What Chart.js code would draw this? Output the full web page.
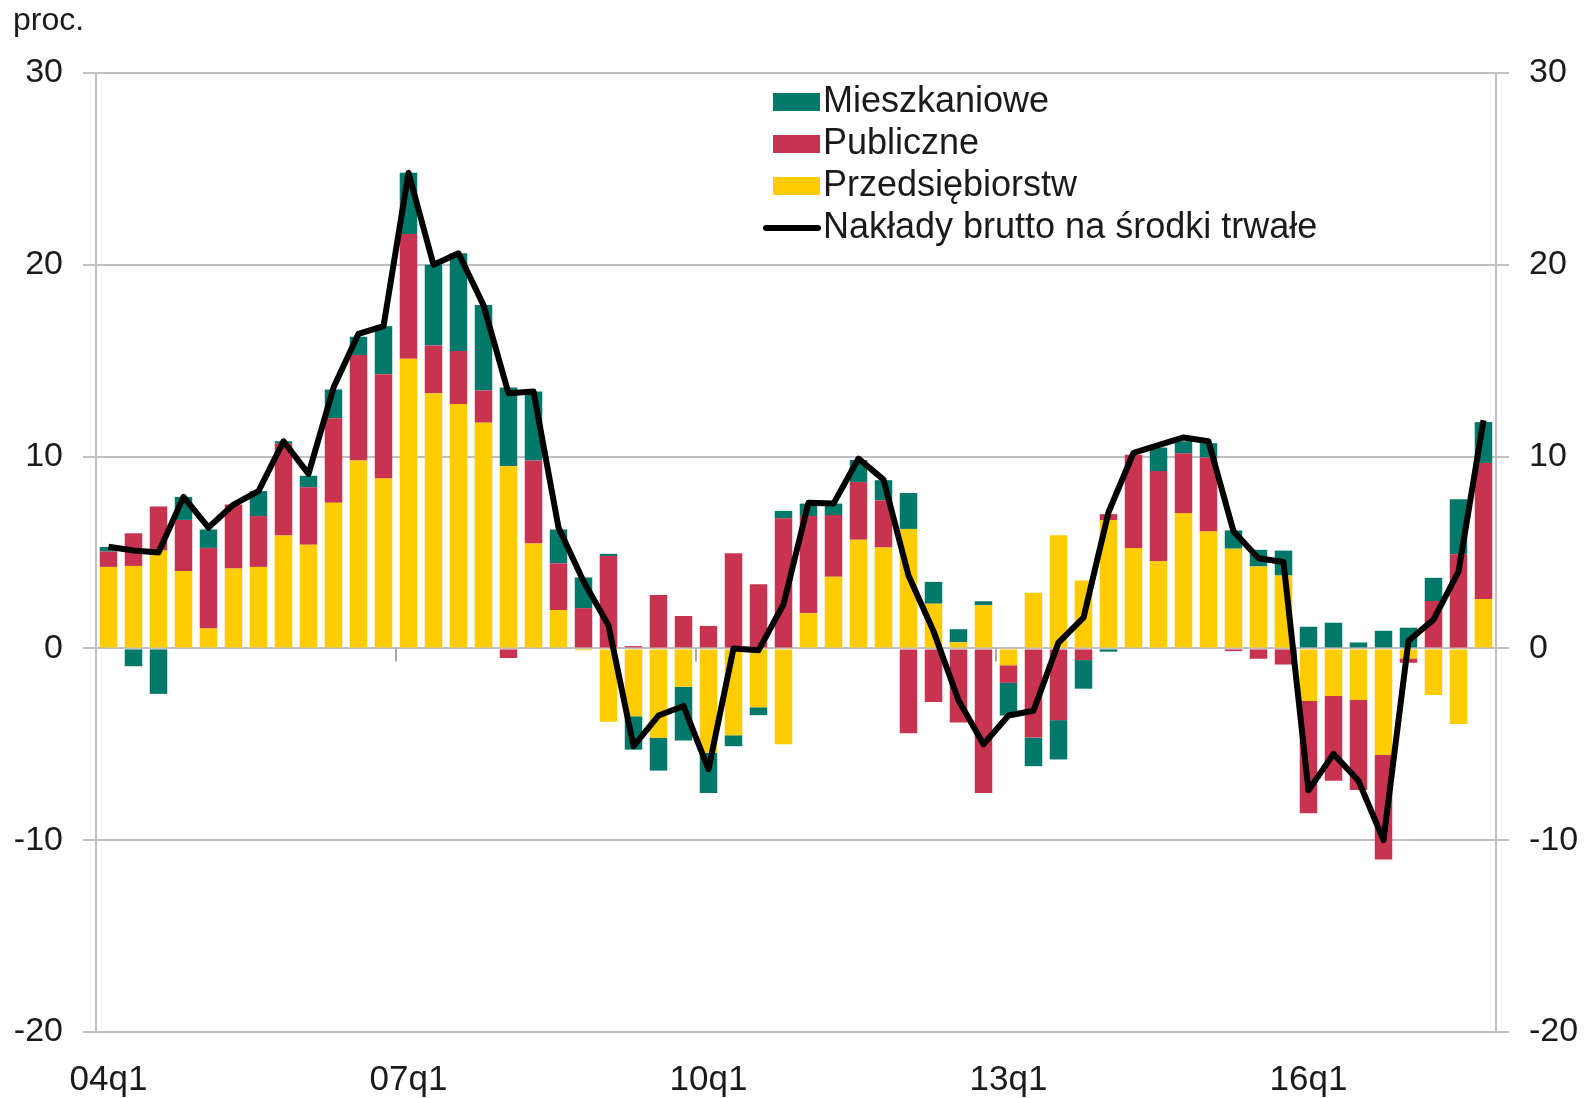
<!DOCTYPE html>
<html>
<head>
<meta charset="utf-8">
<script src="https://cdn.jsdelivr.net/npm/chart.js@4.4.1/dist/chart.umd.min.js"></script>
<style>
  html, body { margin: 0; padding: 0; background: #fff; }
  #wrap { position: relative; width: 1587px; height: 1098px; }
</style>
</head>
<body>
<div id="wrap"><canvas id="myChart"></canvas></div>
<script>
var quarters = [
    '04q1','04q2','04q3','04q4','05q1','05q2','05q3','05q4',
    '06q1','06q2','06q3','06q4','07q1','07q2','07q3','07q4',
    '08q1','08q2','08q3','08q4','09q1','09q2','09q3','09q4',
    '10q1','10q2','10q3','10q4','11q1','11q2','11q3','11q4',
    '12q1','12q2','12q3','12q4','13q1','13q2','13q3','13q4',
    '14q1','14q2','14q3','14q4','15q1','15q2','15q3','15q4',
    '16q1','16q2','16q3','16q4','17q1','17q2','17q3','17q4'
];

// wklady do wzrostu (pkt proc.)
var przedsiebiorstw = [
    4.25, 4.3, 5.1, 4.03, 1.04, 4.16, 4.25, 5.88,
    5.4, 7.6, 9.8, 8.86, 15.1, 13.3, 12.74, 11.77,
    9.5, 5.47, 2.0, -0.1, -3.83, -3.54, -4.67, -2.0,
    -5.45, -4.53, -3.07, -5.0, 1.83, 3.74, 5.67, 5.26,
    6.23, 2.33, 0.32, 2.25, -0.88, 2.9, 5.9, 3.54,
    6.68, 5.24, 4.55, 7.06, 6.1, 5.2, 4.27, 3.8,
    -2.74, -2.48, -2.69, -5.56, -0.52, -2.43, -3.94, 2.57
];
var publiczne = [
    0.8, 1.7, 2.3, 2.67, 4.2, 3.34, 2.65, 4.82,
    3.0, 4.4, 5.5, 5.44, 6.5, 2.5, 2.76, 1.68,
    -0.5, 4.33, 2.44, 2.1, 4.82, 0.12, 2.79, 1.69,
    1.17, 4.96, 3.34, 6.78, 5.07, 3.21, 3.01, 2.46,
    -4.42, -2.8, -3.86, -7.54, -0.92, -4.65, -3.74, -0.61,
    0.32, 4.86, 4.7, 3.11, 3.85, -0.14, -0.54, -0.84,
    -5.86, -4.42, -4.69, -5.44, -0.23, 2.47, 4.91, 7.1
];
var mieszkaniowe = [
    0.24, -0.93, -2.37, 1.2, 0.96, 0.0, 1.3, 0.1,
    0.6, 1.5, 0.95, 2.5, 3.2, 4.2, 5.1, 4.45,
    4.1, 3.6, 1.76, 1.6, 0.11, -1.74, -1.7, -2.8,
    -2.09, -0.57, -0.41, 0.39, 0.65, 0.6, 1.14, 1.05,
    1.87, 1.14, 0.68, 0.21, -1.7, -1.49, -2.05, -1.49,
    -0.17, 0.0, 1.22, 0.63, 0.75, 0.95, 0.87, 1.3,
    1.13, 1.34, 0.31, 0.92, 1.08, 1.21, 2.87, 2.13
];
var naklady = [
    5.3, 5.1, 5.0, 7.9, 6.3, 7.5, 8.2, 10.8,
    9.1, 13.6, 16.4, 16.8, 24.8, 20.0, 20.6, 17.9,
    13.3, 13.4, 6.3, 3.5, 1.2, -5.1, -3.5, -3.0,
    -6.3, 0.0, -0.1, 2.3, 7.6, 7.55, 9.9, 8.8,
    3.8, 0.9, -2.7, -5.0, -3.5, -3.25, 0.3, 1.6,
    7.1, 10.2, 10.6, 11.0, 10.8, 6.1, 4.7, 4.5,
    -7.4, -5.5, -6.9, -10.0, 0.4, 1.5, 4.0, 11.9
];

var fontName = "'Liberation Sans', Arial, sans-serif";
var gridColor = '#c0c0c0';

// legenda rysowana recznie wewnatrz obszaru wykresu
var legendOrder = [2, 1, 0, 3];
const insideLegend = {
    id: 'insideLegend',
    afterDraw(chart) {
        const c = chart.ctx;
        const x0 = 773, y0 = 102, step = 42;
        c.save();
        c.font = '36px ' + fontName;
        c.textBaseline = 'middle';
        legendOrder.forEach((di, i) => {
            const ds = chart.data.datasets[di];
            const y = y0 + i * step;
            if (ds.type === 'line') {
                c.strokeStyle = ds.borderColor;
                c.lineWidth = 6;
                c.lineCap = 'round';
                c.beginPath();
                c.moveTo(x0 - 7, y);
                c.lineTo(x0 + 45, y);
                c.stroke();
            } else {
                c.fillStyle = ds.backgroundColor;
                c.fillRect(x0, y - 9, 47, 18);
            }
            c.fillStyle = '#1a1a1a';
            c.fillText(ds.label, x0 + 50, y);
        });
        c.restore();
    }
};

// kreski podzialki osi X na linii zera co 12 kwartalow
const zeroTicks = {
    id: 'zeroTicks',
    beforeDatasetsDraw(chart) {
        const c = chart.ctx;
        const xs = chart.scales.x, ys = chart.scales.y;
        const y0 = ys.getPixelForValue(0);
        const half = (xs.getPixelForValue(1) - xs.getPixelForValue(0)) / 2;
        c.save();
        c.strokeStyle = '#a8a8a8';
        c.lineWidth = 2;
        for (let i = 12; i < quarters.length; i += 12) {
            const px = Math.round(xs.getPixelForValue(i) - half);
            c.beginPath();
            c.moveTo(px, y0);
            c.lineTo(px, y0 + 13);
            c.stroke();
        }
        c.restore();
    }
};

config = {
    type: 'bar',
    data: {
        labels: quarters,
        datasets: [{
            label: 'Przedsiębiorstw',
            data: przedsiebiorstw,
            backgroundColor: '#ffcc00',
            order: 1
        },
        {
            label: 'Publiczne',
            data: publiczne,
            backgroundColor: '#c83350',
            order: 1
        },
        {
            label: 'Mieszkaniowe',
            data: mieszkaniowe,
            backgroundColor: '#00796b',
            order: 1
        },
        {
            type: 'line',
            label: 'Nakłady brutto na środki trwałe',
            data: naklady,
            borderColor: '#000000',
            borderWidth: 6,
            borderJoinStyle: 'round',
            pointRadius: 0,
            tension: 0,
            stack: 'line',
            order: 0
        }]
    },
    options: {
        responsive: true,
        maintainAspectRatio: false,
        animation: false,
        datasets: {
            bar: {
                categoryPercentage: 1.0,
                barPercentage: 0.7
            }
        },
        layout: {
            padding: { top: 73, left: 0, right: 0, bottom: 0 }
        },
        plugins: {
            legend: { display: false },
            tooltip: { enabled: false }
        },
        scales: {
            x: {
                stacked: true,
                grid: { display: false, drawTicks: false },
                border: { display: false },
                ticks: {
                    autoSkip: false,
                    maxRotation: 0,
                    padding: 27,
                    color: '#1a1a1a',
                    font: { size: 35, family: fontName },
                    callback: function (val, index) {
                        return index % 12 === 0 ? quarters[index] : '';
                    }
                },
                afterFit: function (axis) { axis.height = 66; }
            },
            y: {
                stacked: true,
                min: -20,
                max: 30,
                ticks: {
                    stepSize: 10,
                    padding: 20,
                    color: '#1a1a1a',
                    font: { size: 34, family: fontName }
                },
                grid: { color: gridColor, lineWidth: 2, tickLength: 13 },
                border: { color: gridColor, width: 2 },
                afterFit: function (axis) { axis.width = 96; }
            },
            y2: {
                position: 'right',
                min: -20,
                max: 30,
                ticks: {
                    stepSize: 10,
                    padding: 20,
                    color: '#1a1a1a',
                    font: { size: 34, family: fontName }
                },
                grid: { color: gridColor, lineWidth: 2, tickLength: 13, drawOnChartArea: false },
                border: { color: gridColor, width: 2 },
                afterFit: function (axis) { axis.width = 91; }
            }
        }
    },
    plugins: [zeroTicks, insideLegend, {
        id: 'unitLabel',
        afterDraw(chart) {
            const c = chart.ctx;
            c.save();
            c.font = '32px ' + fontName;
            c.fillStyle = '#1a1a1a';
            c.textBaseline = 'middle';
            c.fillText('proc.', 13, 21);
            c.restore();
        }
    }]
};

const ctx = document.getElementById('myChart');
const myChart = new Chart(ctx, config);
</script>
</body>
</html>
